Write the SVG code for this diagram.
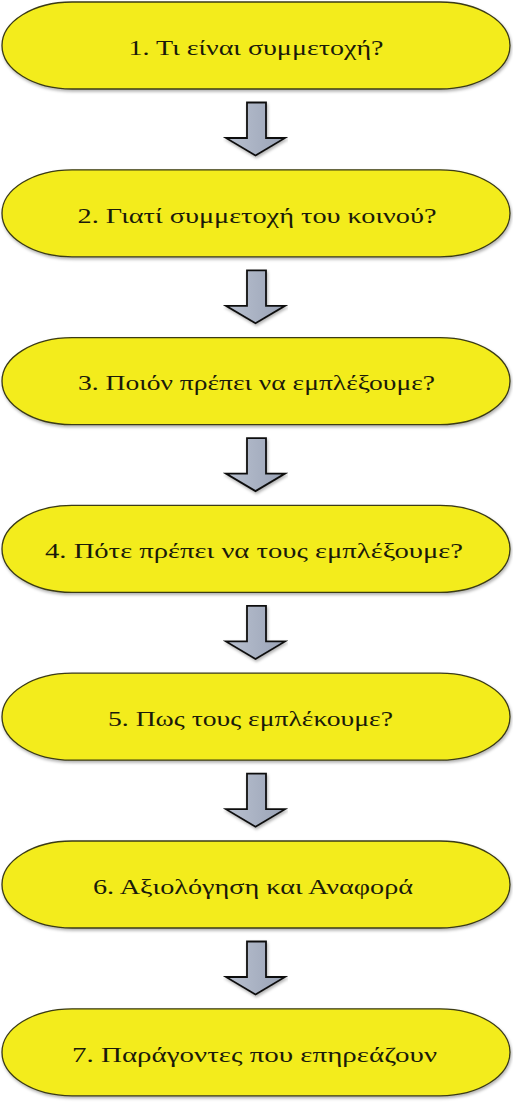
<svg xmlns="http://www.w3.org/2000/svg" xmlns:xlink="http://www.w3.org/1999/xlink" width="513" height="1102" viewBox="0 0 513 1102">
<style>
.pill{fill:#f3ec1a;stroke:#3a3a18;stroke-width:1.3}
.lbl{font-family:"Liberation Serif","DejaVu Serif",serif;font-size:22px;fill:#1a1a0a;text-anchor:middle}
.arr{fill:url(#ag);stroke:#111;stroke-width:1.8;stroke-linejoin:miter}
</style>
<defs>
<linearGradient id="ag" x1="0" y1="0" x2="1" y2="0">
<stop offset="0" stop-color="#b9c1d0"/>
<stop offset="1" stop-color="#9aa3b6"/>
</linearGradient>
<filter id="sh" x="-5%" y="-10%" width="110%" height="130%">
<feDropShadow dx="1" dy="2" stdDeviation="1.5" flood-color="#000" flood-opacity="0.3"/>
</filter>
<path id="pill" d="M72,-43.5 H440 A70,43.5 0 0 1 440,43.5 H72 A70,43.5 0 0 1 72,-43.5 Z"/>
<path id="arrow" d="M247,57 H266 V92.5 H285 L255.5,110 L226,92.5 H247 Z"/>
</defs>
<rect width="513" height="1102" fill="#fff"/>
<g id="connectors">
<use xlink:href="#arrow" class="arr" y="45.5" filter="url(#sh)"/>
<use xlink:href="#arrow" class="arr" y="213.3" filter="url(#sh)"/>
<use xlink:href="#arrow" class="arr" y="381.1" filter="url(#sh)"/>
<use xlink:href="#arrow" class="arr" y="548.9" filter="url(#sh)"/>
<use xlink:href="#arrow" class="arr" y="716.7" filter="url(#sh)"/>
<use xlink:href="#arrow" class="arr" y="884.5" filter="url(#sh)"/>
</g>
<g id="node1">
<use xlink:href="#pill" class="pill" y="45.5" filter="url(#sh)"/>
<text class="lbl" x="256" y="55" textLength="255" lengthAdjust="spacingAndGlyphs">1. Τι είναι συμμετοχή?</text>
</g>
<g id="node2">
<use xlink:href="#pill" class="pill" y="213.3" filter="url(#sh)"/>
<text class="lbl" x="257" y="222.5" textLength="359" lengthAdjust="spacingAndGlyphs">2. Γιατί συμμετοχή του κοινού?</text>
</g>
<g id="node3">
<use xlink:href="#pill" class="pill" y="381.1" filter="url(#sh)"/>
<text class="lbl" x="256.5" y="390.3" textLength="357" lengthAdjust="spacingAndGlyphs">3. Ποιόν πρέπει να εμπλέξουμε?</text>
</g>
<g id="node4">
<use xlink:href="#pill" class="pill" y="548.9" filter="url(#sh)"/>
<text class="lbl" x="254" y="558.1" textLength="418" lengthAdjust="spacingAndGlyphs">4. Πότε πρέπει να τους εμπλέξουμε?</text>
</g>
<g id="node5">
<use xlink:href="#pill" class="pill" y="716.7" filter="url(#sh)"/>
<text class="lbl" x="250.5" y="725.9" textLength="285" lengthAdjust="spacingAndGlyphs">5. Πως τους εμπλέκουμε?</text>
</g>
<g id="node6">
<use xlink:href="#pill" class="pill" y="884.5" filter="url(#sh)"/>
<text class="lbl" x="253" y="893.7" textLength="320" lengthAdjust="spacingAndGlyphs">6. Αξιολόγηση και Αναφορά</text>
</g>
<g id="node7">
<use xlink:href="#pill" class="pill" y="1052.3" filter="url(#sh)"/>
<text class="lbl" x="254.5" y="1061.5" textLength="365" lengthAdjust="spacingAndGlyphs">7. Παράγοντες που επηρεάζουν</text>
</g>
</svg>
